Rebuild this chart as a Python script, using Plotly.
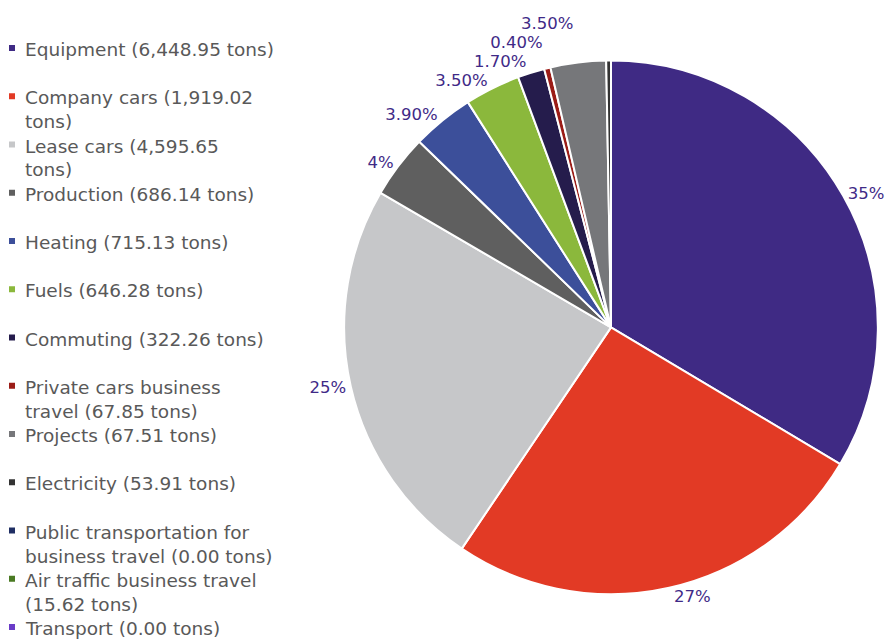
import plotly.graph_objects as go

categories = [
    "Equipment (6,448.95 tons)",
    "Company cars (1,919.02<br>tons)",
    "Lease cars (4,595.65<br>tons)",
    "Production (686.14 tons)",
    "Heating (715.13 tons)",
    "Fuels (646.28 tons)",
    "Commuting (322.26 tons)",
    "Private cars business<br>travel (67.85 tons)",
    "Projects (67.51 tons)",
    "Electricity (53.91 tons)",
    "Public transportation for<br>business travel (0.00 tons)",
    "Air traffic business travel<br>(15.62 tons)",
    "Transport (0.00 tons)",
]
shares = [35, 27, 25, 4, 3.9, 3.5, 1.7, 0.4, 3.5, 0.3, 0, 0, 0]
share_labels = ["35%", "27%", "25%", "4%", "3.90%", "3.50%", "1.70%", "0.40%", "3.50%", "", "", "", ""]
colors = ["#3f2a84", "#e23a25", "#c6c7c9", "#5f5f5f", "#3c4f9a", "#8bb83c", "#251c4c",
          "#9b1c17", "#76777a", "#333333", "#1f2e63", "#4a7a23", "#6a3cc8"]

W, H = 894, 644
OFF = 8  # page body margin offset
FONT = "DejaVu Sans"
LABEL_COLOR = "#3f2a87"

fig = go.Figure(go.Pie(
    labels=[c.replace("<br>", " ") for c in categories],
    values=shares,
    text=share_labels,
    texttemplate="<span style='color:" + LABEL_COLOR + ";fill-opacity:1'>%{text}</span>",
    textposition="outside",
    outsidetextfont=dict(family=FONT, size=16.5, color="rgba(255,255,255,0)"),
    marker=dict(colors=colors, line=dict(color="white", width=2)),
    sort=False,
    direction="clockwise",
    rotation=0,
    showlegend=False,
    hoverinfo="label+percent",
    domain=dict(x=[0.376, 0.973], y=[0.0896, 0.9186]),
))

# legend drawn as text + square swatches (Excel-style tight legend)
shapes = []
annotations = []
row_step = 48.25
first_row = 48 - OFF
line_step = 24
for i, (name, col) in enumerate(zip(categories, colors)):
    yc = first_row + i * row_step
    shapes.append(dict(
        type="rect", xref="paper", yref="paper",
        x0=(9 - OFF) / W, x1=(15 - OFF) / W, y0=1 - (yc + 3) / H, y1=1 - (yc - 3) / H,
        fillcolor=col, line=dict(width=0),
    ))
    for j, line in enumerate(name.split("<br>")):
        annotations.append(dict(
            text=line, xref="paper", yref="paper",
            x=(23 - OFF) / W, y=1 - (yc + 1.5 + j * line_step) / H,
            xanchor="left", yanchor="middle", showarrow=False,
            font=dict(family=FONT, size=18.5, color="#595959"),
        ))

fig.update_layout(
    width=W, height=H,
    margin=dict(l=0, r=0, t=0, b=0),
    paper_bgcolor="white",
    shapes=shapes,
    annotations=annotations,
)

fig.write_html("out.html")
